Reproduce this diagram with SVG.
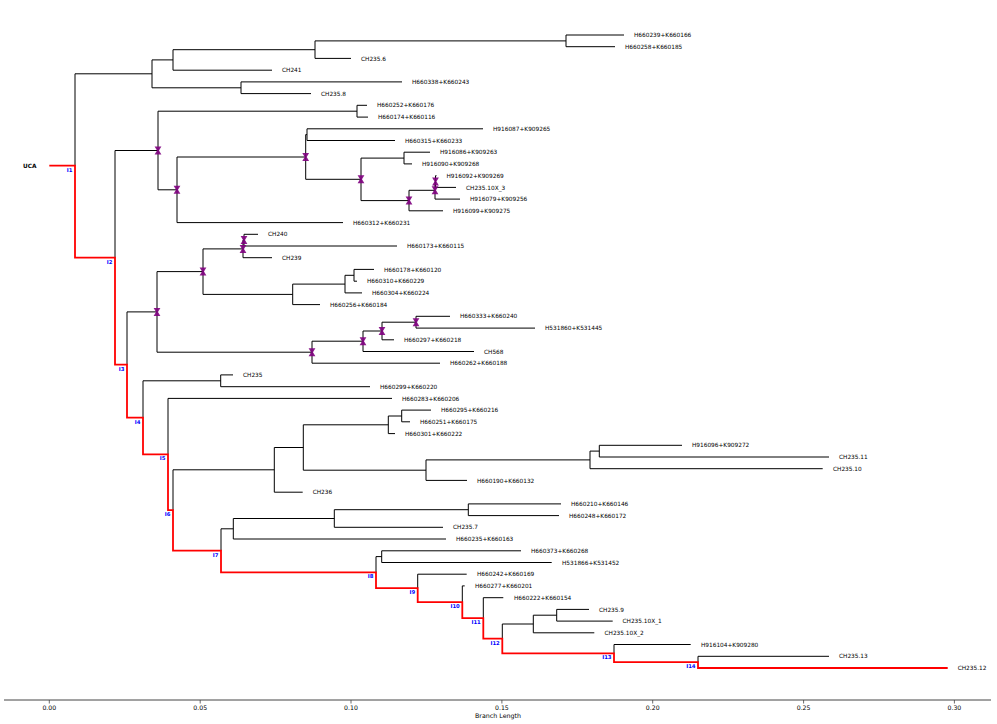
<svg xmlns="http://www.w3.org/2000/svg" xmlns:xlink="http://www.w3.org/1999/xlink" width="997" height="724" viewBox="0 0 997 724">
<style>
.br{stroke:#000;stroke-width:1;fill:none}
.red{stroke:#f00;stroke-width:1.8;fill:none;stroke-linejoin:miter}
.lf{font-family:"DejaVu Sans","Liberation Sans",sans-serif;font-size:5.8px;fill:#000}
.il{font-family:"DejaVu Sans","Liberation Sans",sans-serif;font-size:5.3px;font-weight:bold;fill:#00f;text-anchor:end}
.ax{font-family:"DejaVu Sans","Liberation Sans",sans-serif;font-size:6.2px;fill:#000;text-anchor:middle}
.mk{fill:#800080;opacity:0.9}
</style>
<defs>
<path id="mk" d="M-3.4,-4H3.4L1,0L3.4,4H-3.4L-1,0Z"/>
</defs>
<rect width="997" height="724" fill="#fff"/>
<g id="connectors">
<path class="br" d="M75 73.8H152M152 59.9V87.8M152 59.9H173M173 49.7V70.2M173 49.7H315M315 40.9V58.4M315 40.9H566M566 35V46.7M566 35H624M566 46.7H615M315 58.4H351M173 70.2H272M152 87.8H241M241 81.9V93.6M241 81.9H402M241 93.6H311M75 73.8V165.7"/>
<path class="br" d="M115 150.5H158M158 111.2V189.8M158 111.2H357M357 105.3V117.1M357 105.3H367M357 117.1H368M158 189.8H177M177 157V222.6M177 157H305.7M305.7 134.6V179.3M305.7 134.6H307M307 128.8V140.5M307 128.8H483M307 140.5H395M305.7 179.3H361M361 158.1V200.6M361 158.1H404M404 152.2V163.9M404 152.2H430M404 163.9H412M361 200.6H409M409 190.3V210.8M409 190.3H435M435 181.5V199.1M435 181.5H435.5M435.5 175.7V187.4M435.5 175.7H436.5M435.5 187.4H456M435 199.1H460M409 210.8H443M177 222.6H343M115 150.5V257.6"/>
<path class="br" d="M127 311.9H157M157 271.6V352.2M157 271.6H203M203 248.9V294.4M203 248.9H243M243 240.1V257.7M243 240.1H244M244 234.3V246M244 234.3H258M244 246H397M243 257.7H272M203 294.4H292.7M292.7 284.1V304.6M292.7 284.1H345M345 275.3V292.9M345 275.3H354M354 269.4V281.2M354 269.4H374M354 281.2H357M345 292.9H362M292.7 304.6H320M157 352.2H312M312 341.2V363.2M312 341.2H363M363 331V351.5M363 331H382M382 322.2V339.8M382 322.2H416M416 316.3V328.1M416 316.3H450M416 328.1H535M382 339.8H394M363 351.5H474M312 363.2H440M127 311.9V364.7"/>
<path class="br" d="M143 380.8H220.7M220.7 374.9V386.7M220.7 374.9H233M220.7 386.7H370M143 380.8V417.6M168 398.4H392M168 398.4V454.3M173 469.8H274.3M274.3 447.5V492.2M274.3 447.5H303.3M303.3 424.8V470.2M303.3 424.8H388.3M388.3 416V433.6M388.3 416H401.7M401.7 410.1V421.8M401.7 410.1H431M401.7 421.8H410M388.3 433.6H395M303.3 470.2H426M426 459.9V480.4M426 459.9H590M590 451.1V468.7M590 451.1H599.3M599.3 445.3V457M599.3 445.3H682M599.3 457H829M590 468.7H822.7M426 480.4H467M274.3 492.2H302.7M173 469.8V510.2"/>
<path class="br" d="M221 528.8H233.3M233.3 518.5V539M233.3 518.5H334.3M334.3 509.7V527.3M334.3 509.7H468.3M468.3 503.9V515.6M468.3 503.9H561M468.3 515.6H559M334.3 527.3H443M233.3 539H446M221 528.8V550.6M376 556.6H381.7M381.7 550.8V562.5M381.7 550.8H521M381.7 562.5H551.7M376 556.6V572.4M417.7 574.2H466.7M417.7 574.2V588.1M462.3 585.9H464.7M462.3 585.9V602.1M483.3 597.7H503.3M483.3 597.7V618.2M502.3 624H533.3M533.3 615.2V632.8M533.3 615.2H556.7M556.7 609.4V621.1M556.7 609.4H589M556.7 621.1H612.7M533.3 632.8H594.3M502.3 624V638.7M614 644.5H690.7M614 644.5V653.3M698 656.3H829M698 656.3V662.1"/>
<path class="red" d="M49.3 165.7H75V257.6H115V364.7H127V417.6H143V454.3H168V510.2H173V550.6H221V572.4H376V588.1H417.7V602.1H462.3V618.2H483.3V638.7H502.3V653.3H614V662.1H698V668H947.7"/>
</g>
<g id="markers">
<use class="mk" xlink:href="#mk" href="#mk" x="158" y="150.5"/>
<use class="mk" xlink:href="#mk" href="#mk" x="177" y="189.8"/>
<use class="mk" xlink:href="#mk" href="#mk" x="305.7" y="157"/>
<use class="mk" xlink:href="#mk" href="#mk" x="361" y="179.3"/>
<use class="mk" xlink:href="#mk" href="#mk" x="409" y="200.6"/>
<use class="mk" xlink:href="#mk" href="#mk" x="435" y="190.3"/>
<use class="mk" xlink:href="#mk" href="#mk" x="435.5" y="181.5"/>
<use class="mk" xlink:href="#mk" href="#mk" x="244" y="240.1"/>
<use class="mk" xlink:href="#mk" href="#mk" x="243" y="248.9"/>
<use class="mk" xlink:href="#mk" href="#mk" x="203" y="271.6"/>
<use class="mk" xlink:href="#mk" href="#mk" x="157" y="311.9"/>
<use class="mk" xlink:href="#mk" href="#mk" x="312" y="352.2"/>
<use class="mk" xlink:href="#mk" href="#mk" x="363" y="341.2"/>
<use class="mk" xlink:href="#mk" href="#mk" x="382" y="331"/>
<use class="mk" xlink:href="#mk" href="#mk" x="416" y="322.2"/>
</g>
<g id="root"><text x="36.5" y="168" style="font-family:'DejaVu Sans','Liberation Sans',sans-serif;font-size:5.8px;font-weight:bold;text-anchor:end">UCA</text></g>
<g id="inodes">
<g id="I1"><text class="il" x="72.5" y="171.7">I1</text></g>
<g id="I2"><text class="il" x="112.5" y="263.6">I2</text></g>
<g id="I3"><text class="il" x="124.5" y="370.7">I3</text></g>
<g id="I4"><text class="il" x="140.5" y="423.6">I4</text></g>
<g id="I5"><text class="il" x="165.5" y="460.3">I5</text></g>
<g id="I6"><text class="il" x="170.5" y="516.2">I6</text></g>
<g id="I7"><text class="il" x="218.5" y="556.6">I7</text></g>
<g id="I8"><text class="il" x="373.5" y="578.4">I8</text></g>
<g id="I9"><text class="il" x="415.2" y="594.1">I9</text></g>
<g id="I10"><text class="il" x="459.8" y="608.1">I10</text></g>
<g id="I11"><text class="il" x="480.8" y="624.2">I11</text></g>
<g id="I12"><text class="il" x="499.8" y="644.7">I12</text></g>
<g id="I13"><text class="il" x="611.5" y="659.3">I13</text></g>
<g id="I14"><text class="il" x="695.5" y="668.1">I14</text></g>
</g>
<g id="leaves">
<g id="L1"><text class="lf" x="634" y="37.1">H660239+K660166</text></g>
<g id="L2"><text class="lf" x="625" y="48.8">H660258+K660185</text></g>
<g id="L3"><text class="lf" x="361" y="60.5">CH235.6</text></g>
<g id="L4"><text class="lf" x="282" y="72.3">CH241</text></g>
<g id="L5"><text class="lf" x="412" y="84">H660338+K660243</text></g>
<g id="L6"><text class="lf" x="321" y="95.7">CH235.8</text></g>
<g id="L7"><text class="lf" x="377" y="107.4">H660252+K660176</text></g>
<g id="L8"><text class="lf" x="378" y="119.2">H660174+K660116</text></g>
<g id="L9"><text class="lf" x="493" y="130.9">H916087+K909265</text></g>
<g id="L10"><text class="lf" x="405" y="142.6">H660315+K660233</text></g>
<g id="L11"><text class="lf" x="440" y="154.3">H916086+K909263</text></g>
<g id="L12"><text class="lf" x="422" y="166">H916090+K909268</text></g>
<g id="L13"><text class="lf" x="446.5" y="177.8">H916092+K909269</text></g>
<g id="L14"><text class="lf" x="466" y="189.5">CH235.10X_3</text></g>
<g id="L15"><text class="lf" x="470" y="201.2">H916079+K909256</text></g>
<g id="L16"><text class="lf" x="453" y="212.9">H916099+K909275</text></g>
<g id="L17"><text class="lf" x="353" y="224.7">H660312+K660231</text></g>
<g id="L18"><text class="lf" x="268" y="236.4">CH240</text></g>
<g id="L19"><text class="lf" x="407" y="248.1">H660173+K660115</text></g>
<g id="L20"><text class="lf" x="282" y="259.8">CH239</text></g>
<g id="L21"><text class="lf" x="384" y="271.5">H660178+K660120</text></g>
<g id="L22"><text class="lf" x="367" y="283.3">H660310+K660229</text></g>
<g id="L23"><text class="lf" x="372" y="295">H660304+K660224</text></g>
<g id="L24"><text class="lf" x="330" y="306.7">H660256+K660184</text></g>
<g id="L25"><text class="lf" x="460" y="318.4">H660333+K660240</text></g>
<g id="L26"><text class="lf" x="545" y="330.2">H531860+K531445</text></g>
<g id="L27"><text class="lf" x="404" y="341.9">H660297+K660218</text></g>
<g id="L28"><text class="lf" x="484" y="353.6">CH568</text></g>
<g id="L29"><text class="lf" x="450" y="365.3">H660262+K660188</text></g>
<g id="L30"><text class="lf" x="243" y="377">CH235</text></g>
<g id="L31"><text class="lf" x="380" y="388.8">H660299+K660220</text></g>
<g id="L32"><text class="lf" x="402" y="400.5">H660283+K660206</text></g>
<g id="L33"><text class="lf" x="441" y="412.2">H660295+K660216</text></g>
<g id="L34"><text class="lf" x="420" y="423.9">H660251+K660175</text></g>
<g id="L35"><text class="lf" x="405" y="435.7">H660301+K660222</text></g>
<g id="L36"><text class="lf" x="692" y="447.4">H916096+K909272</text></g>
<g id="L37"><text class="lf" x="839" y="459.1">CH235.11</text></g>
<g id="L38"><text class="lf" x="833" y="470.8">CH235.10</text></g>
<g id="L39"><text class="lf" x="477" y="482.5">H660190+K660132</text></g>
<g id="L40"><text class="lf" x="312.7" y="494.3">CH236</text></g>
<g id="L41"><text class="lf" x="571" y="506">H660210+K660146</text></g>
<g id="L42"><text class="lf" x="569" y="517.7">H660248+K660172</text></g>
<g id="L43"><text class="lf" x="453" y="529.4">CH235.7</text></g>
<g id="L44"><text class="lf" x="456" y="541.2">H660235+K660163</text></g>
<g id="L45"><text class="lf" x="531" y="552.9">H660373+K660268</text></g>
<g id="L46"><text class="lf" x="562" y="564.6">H531866+K531452</text></g>
<g id="L47"><text class="lf" x="477" y="576.3">H660242+K660169</text></g>
<g id="L48"><text class="lf" x="475" y="588">H660277+K660201</text></g>
<g id="L49"><text class="lf" x="514" y="599.8">H660222+K660154</text></g>
<g id="L50"><text class="lf" x="599" y="611.5">CH235.9</text></g>
<g id="L51"><text class="lf" x="622.5" y="623.2">CH235.10X_1</text></g>
<g id="L52"><text class="lf" x="604.5" y="634.9">CH235.10X_2</text></g>
<g id="L53"><text class="lf" x="701" y="646.6">H916104+K909280</text></g>
<g id="L54"><text class="lf" x="839" y="658.4">CH235.13</text></g>
<g id="L55"><text class="lf" x="957.7" y="670.1">CH235.12</text></g>
</g>
<g id="axis">
<path d="M4 700H991" stroke="#444" stroke-width="1" fill="none"/>
<path d="M49.3 700V703.5M200.2 700V703.5M351 700V703.5M501.9 700V703.5M652.7 700V703.5M803.6 700V703.5M954.4 700V703.5" stroke="#444" stroke-width="0.8"/>
<text class="ax" x="49.3" y="709.5">0.00</text>
<text class="ax" x="200.2" y="709.5">0.05</text>
<text class="ax" x="351" y="709.5">0.10</text>
<text class="ax" x="501.9" y="709.5">0.15</text>
<text class="ax" x="652.7" y="709.5">0.20</text>
<text class="ax" x="803.6" y="709.5">0.25</text>
<text class="ax" x="954.4" y="709.5">0.30</text>
<text class="ax" x="498" y="718" style="font-size:6.3px">Branch Length</text>
</g>
</svg>
